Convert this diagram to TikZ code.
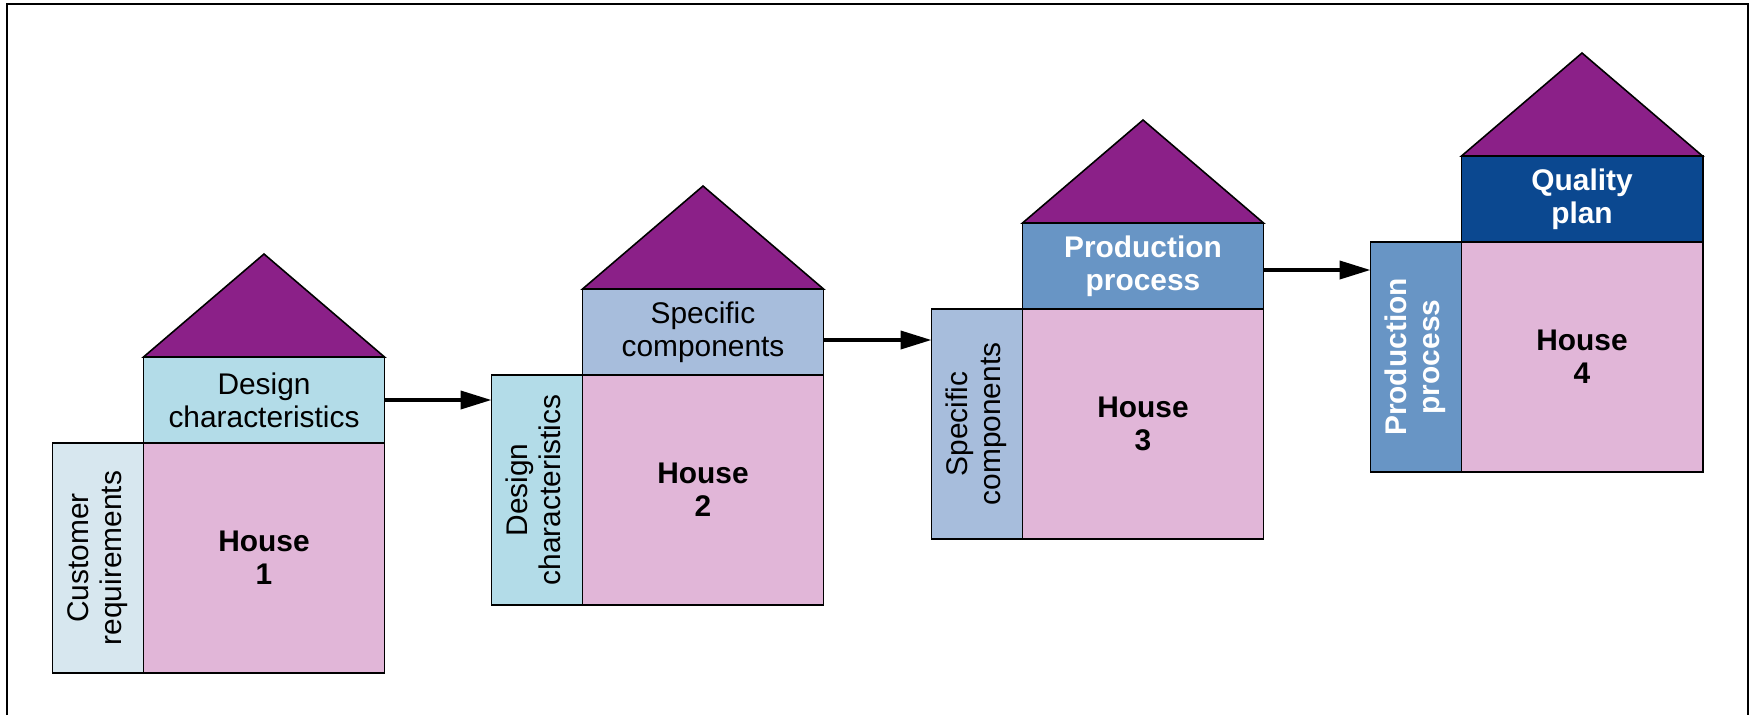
\documentclass[tikz,border=0pt]{standalone}
\usepackage{fontspec}
\setmainfont{Liberation Sans}
\usepackage{graphicx}
\usetikzlibrary{positioning,arrows.meta}
\definecolor{roofpurple}{HTML}{8B2088}
\definecolor{housepink}{HTML}{E1B6D8}
\definecolor{paleblue}{HTML}{D7E7EF}
\definecolor{lightblue}{HTML}{B3DCE8}
\definecolor{greyblue}{HTML}{A7BDDC}
\definecolor{midblue}{HTML}{6895C5}
\definecolor{darkblue}{HTML}{0B4890}
\newcommand{\labelsize}{\fontsize{8.5pt}{9.4pt}\selectfont}
\newcommand{\sidelabel}[2]{\rotatebox{90}{\begin{tabular}{@{}c@{}}#1\\#2\end{tabular}}}
\tikzstyle{house} = [rectangle, minimum width=2.41cm, minimum height=2.30cm, inner sep=0pt, outer sep=0pt, line width=0.55pt, draw=black, fill=housepink, font=\labelsize\bfseries, align=center]
\tikzstyle{band} = [rectangle, minimum width=2.41cm, minimum height=0.86cm, inner sep=0pt, outer sep=0pt, line width=0.55pt, draw=black, font=\labelsize, align=center]
\tikzstyle{strip} = [rectangle, minimum width=0.91cm, minimum height=2.30cm, inner sep=0pt, outer sep=0pt, line width=0.55pt, draw=black, font=\labelsize]
\tikzstyle{roof} = [draw=black, line width=0.45pt, fill=roofpurple, line join=miter]
\begin{document}
\begin{tikzpicture}
    \tikzset{flow/.style={line width=1.1pt, -{Triangle[length=3.1mm,width=1.8mm]}}}
    \useasboundingbox (0,0) rectangle (17.53,7.15);
    \draw [line width=0.6pt] (0.07,0) -- (0.07,7.11) -- (17.48,7.11) -- (17.48,0);

    % house 1
    \node (house1) [house] at (2.64,1.57) {House\\1};
    \node (cust1) [strip, fill=paleblue, left=0pt of house1] {\sidelabel{Customer}{requirements}};
    \node (design1) [band, fill=lightblue, above=0pt of house1] {Design\\characteristics};
    \draw [roof] (design1.north west) -- ([yshift=1.03cm]design1.north) -- (design1.north east) -- cycle;

    % house 2
    \node (house2) [house, right=1.98cm of house1, yshift=0.68cm] {House\\2};
    \node (design2) [strip, fill=lightblue, left=0pt of house2] {\sidelabel{Design}{characteristics}};
    \node (comp2) [band, fill=greyblue, above=0pt of house2] {Specific\\components};
    \draw [roof] (comp2.north west) -- ([yshift=1.03cm]comp2.north) -- (comp2.north east) -- cycle;

    % house 3
    \node (house3) [house, right=1.99cm of house2, yshift=0.66cm] {House\\3};
    \node (comp3) [strip, fill=greyblue, left=0pt of house3] {\sidelabel{Specific}{components}};
    \node (proc3) [band, fill=midblue, text=white, font=\labelsize\bfseries, above=0pt of house3] {Production\\process};
    \draw [roof] (proc3.north west) -- ([yshift=1.03cm]proc3.north) -- (proc3.north east) -- cycle;

    % house 4
    \node (house4) [house, right=1.98cm of house3, yshift=0.67cm] {House\\4};
    \node (proc4) [strip, fill=midblue, text=white, font=\labelsize\bfseries, left=0pt of house4] {\sidelabel{Production}{process}};
    \node (plan4) [band, fill=darkblue, text=white, font=\labelsize\bfseries, above=0pt of house4] {Quality\\plan};
    \draw [roof] (plan4.north west) -- ([yshift=1.03cm]plan4.north) -- (plan4.north east) -- cycle;

    % arrows between houses
    \coordinate (out2) at ([yshift=-0.08cm]comp2.east);
    \coordinate (out3) at ([yshift=-0.04cm]proc3.east);
    \draw [flow] (design1.east) -- (design1.east -| design2.west);
    \draw [flow] (out2) -- (out2 -| comp3.west);
    \draw [flow] (out3) -- (out3 -| proc4.west);
\end{tikzpicture}
\end{document}
